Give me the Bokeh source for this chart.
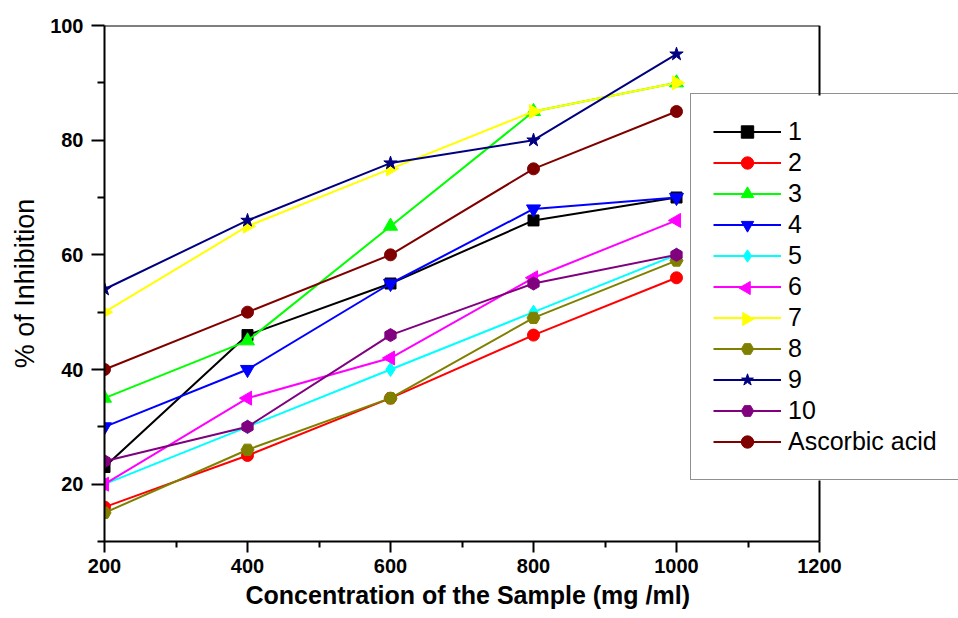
import math
from bokeh.plotting import figure
from bokeh.models import Range1d, FixedTicker, Legend, LegendItem, Title
from bokeh.embed import file_html
from bokeh.resources import INLINE

# ---- data ----
concentration = [200, 400, 600, 800, 1000]
s1 = [23, 46, 55, 66, 70]
s2 = [16, 25, 35, 46, 56]
s3 = [35, 45, 65, 85, 90]
s4 = [30, 40, 55, 68, 70]
s5 = [20, 30, 40, 50, 60]
s6 = [20, 35, 42, 56, 66]
s7 = [50, 65, 75, 85, 90]
s8 = [15, 26, 35, 49, 59]
s9 = [54, 66, 76, 80, 95]
s10 = [24, 30, 46, 55, 60]
ascorbic = [40, 50, 60, 75, 85]
series_names = ["1", "2", "3", "4", "5", "6", "7", "8", "9", "10", "Ascorbic acid"]
series_values = [s1, s2, s3, s4, s5, s6, s7, s8, s9, s10, ascorbic]
x_ticks = [200, 400, 600, 800, 1000, 1200]
x_minor = [300, 500, 700, 900, 1100]
y_ticks = [20, 40, 60, 80, 100]
y_minor = [10, 30, 50, 70, 90]
x_axis_min, x_axis_max = 200, 1200
y_axis_min, y_axis_max = 10, 100
x_title = "Concentration of the Sample (mg /ml)"
y_title = "% of Inhibition"

# ---- styles ----
colors = ["#000000", "#FF0000", "#00FF00", "#0000FF", "#00FFFF", "#FF00FF",
          "#FFFF00", "#808000", "#000080", "#800080", "#800000"]
markers = ["square", "circle", "triangle", "inverted_triangle", "diamond", "triangle",
           "triangle", "hex", "star", "hex", "circle"]
angles = [0, 0, 0, 0, 0, math.pi / 2, -math.pi / 2, 0, 0, math.pi / 6, 0]
sizes = [11, 12, 14, 14, 14, 14, 14, 13, 14, 13, 12]

# ---- layout (pixels) ----
FRAME_LEFT, FRAME_TOP = 104, 25
FRAME_W_AXIS, FRAME_H = 715, 516          # 200..1200 spans 715 px
FRAME_W = 958 - FRAME_LEFT                # frame runs to the window edge
px_x = FRAME_W_AXIS / (x_axis_max - x_axis_min)
px_y = FRAME_H / (y_axis_max - y_axis_min)
x_view_max = x_axis_min + FRAME_W / px_x

LEG_X, LEG_Y = 586, 61                     # legend bottom-left, from frame bottom-left
LEG_PAD, LEG_ROW, LEG_GLYPH_W = 22, 31, 68
n_items = len(series_names)
LEG_H = 2 * LEG_PAD + n_items * LEG_ROW


def xd(px):
    return x_axis_min + px / px_x


def yd(px):
    return y_axis_min + px / px_y


p = figure(width=958, height=618, output_backend="svg", toolbar_location=None,
           x_range=Range1d(x_axis_min, x_view_max), y_range=Range1d(y_axis_min, y_axis_max),
           min_border_left=FRAME_LEFT, min_border_right=0, min_border_top=FRAME_TOP,
           min_border_bottom=77)
p.grid.visible = False
p.outline_line_color = None
p.background_fill_color = "white"
p.border_fill_color = "white"

items = []
legend_markers = []
for i, (name, vals, c, m, a, s) in enumerate(zip(series_names, series_values, colors,
                                                  markers, angles, sizes)):
    ln = p.line(concentration, vals, line_color=c, line_width=2)
    sc = p.scatter(x=concentration, y=vals, marker=m, size=s, angle=a, angle_units="rad",
                   fill_color=c, line_color=c)
    if a in (math.pi / 2, -math.pi / 2):
        # Bokeh legends never rotate markers: the rotated marker is drawn beneath
        items.append(LegendItem(label=name, renderers=[ln]))
        legend_markers.append((i, m, a, c))
    else:
        items.append(LegendItem(label=name, renderers=[ln, sc]))

# top and right border of the 200..1200 x 10..100 box
p.segment(x0=[x_axis_min, x_axis_max], y0=[y_axis_max, y_axis_min],
          x1=[x_axis_max, x_axis_max], y1=[y_axis_max, y_axis_max],
          line_color="#000000", line_width=2)

# white backing of the legend (hides the frame border behind it)
p.quad(left=[xd(LEG_X)], right=[x_view_max], bottom=[yd(LEG_Y)], top=[yd(LEG_Y + LEG_H)],
       fill_color="white", line_color=None)

for i, m, a, c in legend_markers:
    cx_px = LEG_X + LEG_PAD + LEG_GLYPH_W / 2
    cy_px = LEG_Y + LEG_PAD + (n_items - i - 0.5) * LEG_ROW
    p.scatter(x=[xd(cx_px)], y=[yd(cy_px)], marker=m, size=13, angle=a, angle_units="rad",
              fill_color=c, line_color=c)

legend = Legend(items=items, location=(LEG_X, LEG_Y), padding=LEG_PAD, spacing=0,
                glyph_width=LEG_GLYPH_W, glyph_height=LEG_ROW, label_height=LEG_ROW,
                label_standoff=7, label_text_color="#000000",
                label_text_font="Liberation Sans", label_text_font_size="25px",
                border_line_color="#222222", border_line_width=1.5,
                background_fill_alpha=0.0, margin=0)
p.add_layout(legend, "center")

for ax in (p.xaxis[0], p.yaxis[0]):
    ax.axis_line_width = 2
    ax.axis_line_color = "#000000"
    ax.major_tick_line_width = 2
    ax.minor_tick_line_width = 2
    ax.major_tick_line_color = "#000000"
    ax.minor_tick_line_color = "#000000"
    ax.major_tick_in = 0
    ax.minor_tick_in = 0
    ax.major_label_text_color = "#000000"
    ax.major_label_text_font = "Liberation Sans"
    ax.major_label_text_font_style = "bold"
    ax.major_label_text_font_size = "20px"
    ax.axis_label_text_font = "Liberation Sans"
    ax.axis_label_text_color = "#000000"

p.xaxis.bounds = (x_axis_min, x_axis_max)
p.xaxis.ticker = FixedTicker(ticks=x_ticks, minor_ticks=x_minor)
p.yaxis.ticker = FixedTicker(ticks=y_ticks, minor_ticks=y_minor)
p.xaxis.major_tick_out = 11
p.xaxis.minor_tick_out = 6
p.yaxis.major_tick_out = 13
p.yaxis.minor_tick_out = 7
p.xaxis.major_label_standoff = 6
p.yaxis.major_label_standoff = 8

# x title: left-aligned with an offset so it is centred on the 200..1200 axis
xt = Title(text=x_title, align="left", offset=141, standoff=6, vertical_align="bottom",
           text_font="Liberation Sans", text_font_size="25px", text_font_style="bold",
           text_color="#000000")
p.add_layout(xt, "below")

p.yaxis.axis_label = y_title
p.yaxis.axis_label_text_font_style = "normal"
p.yaxis.axis_label_text_font_size = "27px"
p.yaxis.axis_label_standoff = 7

open("out.html", "w").write(file_html(p, INLINE))
